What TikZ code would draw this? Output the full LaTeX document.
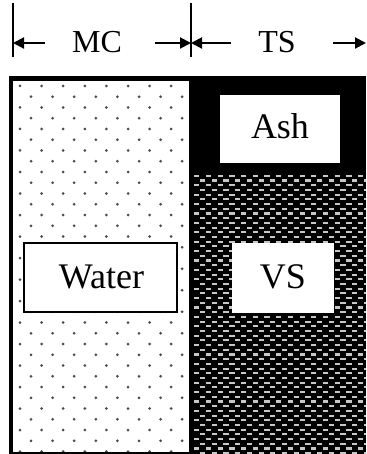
\documentclass[tikz,border=0pt]{standalone}
\usepackage{fontspec}
\setmainfont{Liberation Serif}
\usetikzlibrary{arrows.meta}
\begin{document}
\begin{tikzpicture}[x=1pt,y=-1pt,
  toplab/.style={font=\fontsize{32}{32}\selectfont, inner sep=0pt, anchor=base},
  inlab/.style={font=\fontsize{36}{36}\selectfont, inner sep=0pt, anchor=base},
  dim/.style={line width=2pt,-{Triangle[length=11pt,width=11pt]}},
  tick/.style={line width=2pt},
  dotmark/.style={fill=black!70},
  dashmark/.style={fill=black!22},
  labelbox/.style={fill=white, draw=none}]
\useasboundingbox (0,0) rectangle (366,454);
% dimension line
\coordinate (t1a) at (13,3); \coordinate (t1b) at (13,57);
\coordinate (t2a) at (191,3); \coordinate (t2b) at (191,57);
\draw[tick] (t1a) -- (t1b);
\draw[tick] (t2a) -- (t2b);
\node[toplab] (mc) at (97,53) {MC};
\node[toplab] (ts) at (277,53) {TS};
\coordinate (m1) at (45,43); \coordinate (m1e) at (13,43);
\coordinate (m2) at (155,43); \coordinate (m2e) at (191,43);
\coordinate (s1) at (231,43); \coordinate (s1e) at (191,43);
\coordinate (s2) at (333,43); \coordinate (s2e) at (366,43);
\draw[dim] (m1) -- (m1e);
\draw[dim] (m2) -- (m2e);
\draw[dim] (s1) -- (s1e);
\draw[dim] (s2) -- (s2e);
% frame
\fill[black] (9,76) rectangle (366,454);
% left panel (water) with dots
\fill[white] (13,81) rectangle (189,451.5);
\begin{scope}
  \clip (13,81) rectangle (189,451.5);
  \foreach \r in {0,...,34}{
    \pgfmathsetmacro{\yy}{86+10.75*\r}
    \pgfmathtruncatemacro{\odd}{mod(\r,2)}
    \foreach \c in {0,...,7}{
      \pgfmathsetmacro{\xx}{(\odd==1 ? 31 : 20)+21.6*\c}
      \fill[dotmark] (\xx,\yy) circle (1.5);
    }
  }
\end{scope}
% right panel: dark pattern (volatile solids)
\begin{scope}
  \clip (193,173) rectangle (366,454);
  \foreach \r in {0,...,60}{
    \pgfmathsetmacro{\yy}{174.8+4.7*\r}
    \pgfmathtruncatemacro{\odd}{mod(\r,2)}
    \foreach \c in {0,...,15}{
      \pgfmathsetmacro{\xx}{(\odd==1 ? 200 : 194.2)+11.7*\c}
      \fill[dashmark] (\xx,\yy) rectangle ++(5.2,2.1);
    }
  }
\end{scope}
% label boxes
\node[labelbox, minimum width=120pt, minimum height=68pt] (ashbox) at (280,129) {};
\node[inlab] (ash) at (280,139) {Ash};
\node[labelbox, minimum width=102pt, minimum height=70pt] (vsbox) at (283,278) {};
\node[inlab] (vs) at (283,288) {VS};
\node[labelbox, draw=black, line width=2pt, minimum width=153pt, minimum height=69pt] (waterbox) at (100.5,277.5) {};
\node[inlab] (water) at (101.5,288) {Water};
\end{tikzpicture}
\end{document}
